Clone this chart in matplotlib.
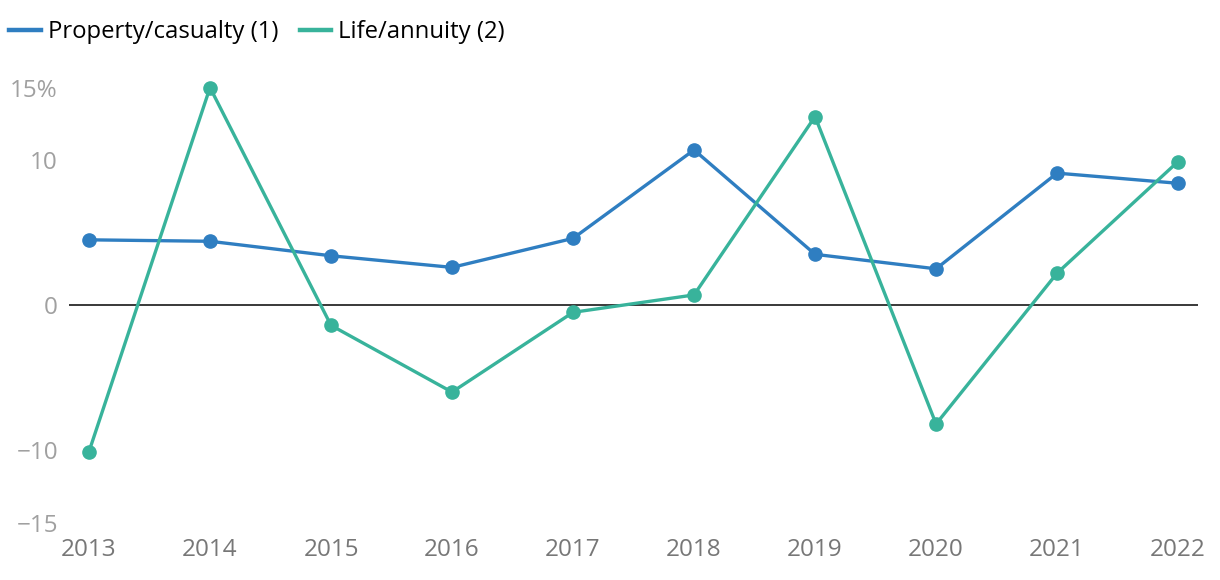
import numpy as np
import matplotlib.pyplot as plt

# data
years = [2013, 2014, 2015, 2016, 2017, 2018, 2019, 2020, 2021, 2022]
property_casualty = [4.5, 4.4, 3.4, 2.6, 4.6, 10.7, 3.5, 2.5, 9.1, 8.4]
life_annuity = [-10.1, 15.0, -1.4, -6.0, -0.5, 0.7, 13.0, -8.2, 2.2, 9.9]
ytick_vals = [-15, -10, 0, 10, 15]
ytick_labels = ['\u221215', '\u221210', '0', '10', '15%']

plt.rcParams['font.family'] = ['Open Sans', 'DejaVu Sans']

blue = '#2f7ec1'
teal = '#38b39b'

fig = plt.figure(figsize=(12.2, 5.8), dpi=100)
ax = fig.add_axes([0.0566, 0.099, 0.9254, 0.750])

ax.plot(years, property_casualty, color=blue, lw=2.4, marker='o', ms=9.5,
        label='Property/casualty (1)', zorder=3, clip_on=False)
ax.plot(years, life_annuity, color=teal, lw=2.4, marker='o', ms=9.5,
        label='Life/annuity (2)', zorder=3, clip_on=False)
ax.axhline(0, color='#2a2a2a', lw=1.3, zorder=2)

ax.set_xlim(2012.835, 2022.165)
ax.set_ylim(-15, 15)
ax.set_xticks(years)
ax.set_xticklabels([str(y) for y in years], fontsize=17.5, color='#777777')
ax.set_yticks(ytick_vals)
ax.set_yticklabels(ytick_labels, fontsize=17.5, color='#a0a0a0')
ax.tick_params(axis='both', length=0)
ax.tick_params(axis='y', pad=8)
ax.tick_params(axis='x', pad=11)
for s in ax.spines.values():
    s.set_visible(False)

fig.legend(loc='upper left', ncol=2, frameon=False,
           fontsize=17.2, handlelength=1.3, handletextpad=0.3, columnspacing=0.9,
           borderaxespad=0.0, borderpad=0.55,
           bbox_to_anchor=(-0.003, 0.988), bbox_transform=fig.transFigure)
leg = fig.legends[0]
for h in leg.legend_handles:
    h.set_marker('')
    h.set_linewidth(3.2)

fig.savefig('out.png', dpi=100)
